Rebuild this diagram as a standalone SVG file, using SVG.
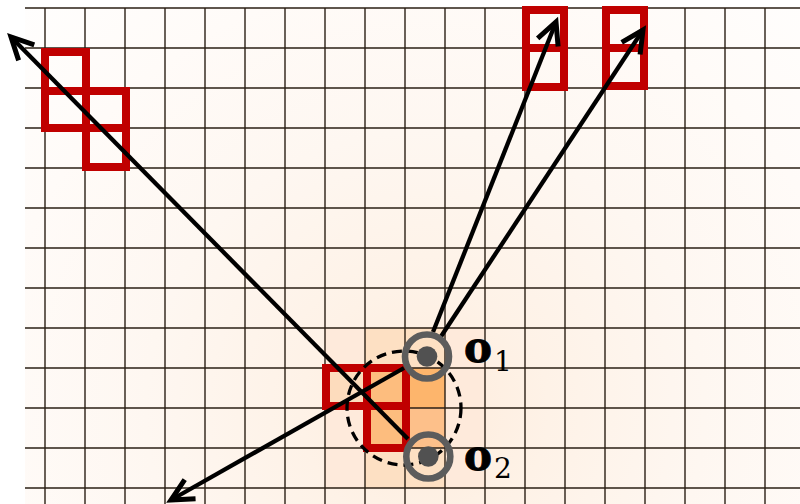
<svg xmlns="http://www.w3.org/2000/svg" width="800" height="504" viewBox="0 0 800 504">
<defs>
<radialGradient id="bg" gradientUnits="userSpaceOnUse" cx="425" cy="410" r="620">
<stop offset="0" stop-color="#feecdc"/>
<stop offset="0.2" stop-color="#fef2e7"/>
<stop offset="0.45" stop-color="#fef7f1"/>
<stop offset="0.7" stop-color="#fffbf8"/>
<stop offset="1" stop-color="#ffffff"/>
</radialGradient>
<marker id="arr" markerUnits="userSpaceOnUse" viewBox="-28 -18 36 36" markerWidth="36" markerHeight="36" refX="0" refY="0" orient="auto">
<path d="M -22,-11 L 0,0 L -22,11" fill="none" stroke="#000" stroke-width="5" stroke-linejoin="miter"/>
</marker>
</defs>
<style>
.grid line{stroke:#2a1f15;stroke-width:1.4}
.sq{fill:none;stroke:#c00000;stroke-width:8}
.conn{stroke:#000;stroke-width:4.3;fill:none}
.ring{fill:none;stroke:#5c5c5c;stroke-width:6.6}
.dot{fill:#515151}
.lbl{font-family:"DejaVu Serif",serif;font-weight:bold;font-size:42px;fill:#000;stroke:#000;stroke-width:0.9}
.sub{font-family:"DejaVu Serif",serif;font-weight:normal;font-size:28px;fill:#000}
</style>
<rect x="0" y="0" width="800" height="504" fill="#ffffff"/>
<g id="background">
<rect x="25" y="8" width="775" height="496" fill="url(#bg)"/>
<rect x="325" y="328" width="160" height="160" fill="#feeadb"/>
<rect x="365" y="328" width="80" height="160" fill="#fde0c3"/>
<rect x="325" y="368" width="40" height="40" fill="#fddcbd"/>
<rect x="365" y="368" width="80" height="80" fill="#fdbd7e"/>
<rect x="405" y="368" width="40" height="40" fill="#fdb56c"/>
<rect x="405" y="408" width="40" height="40" fill="#fdc08a"/>
</g>
<g id="grid" class="grid">
<line x1="25" y1="8" x2="800" y2="8"/>
<line x1="25" y1="48" x2="800" y2="48"/>
<line x1="25" y1="88" x2="800" y2="88"/>
<line x1="25" y1="128" x2="800" y2="128"/>
<line x1="25" y1="168" x2="800" y2="168"/>
<line x1="25" y1="208" x2="800" y2="208"/>
<line x1="25" y1="248" x2="800" y2="248"/>
<line x1="25" y1="288" x2="800" y2="288"/>
<line x1="25" y1="328" x2="800" y2="328"/>
<line x1="25" y1="368" x2="800" y2="368"/>
<line x1="25" y1="408" x2="800" y2="408"/>
<line x1="25" y1="448" x2="800" y2="448"/>
<line x1="25" y1="488" x2="800" y2="488"/>
<line x1="45" y1="8" x2="45" y2="504"/>
<line x1="85" y1="8" x2="85" y2="504"/>
<line x1="125" y1="8" x2="125" y2="504"/>
<line x1="165" y1="8" x2="165" y2="504"/>
<line x1="205" y1="8" x2="205" y2="504"/>
<line x1="245" y1="8" x2="245" y2="504"/>
<line x1="285" y1="8" x2="285" y2="504"/>
<line x1="325" y1="8" x2="325" y2="504"/>
<line x1="365" y1="8" x2="365" y2="504"/>
<line x1="405" y1="8" x2="405" y2="504"/>
<line x1="445" y1="8" x2="445" y2="504"/>
<line x1="485" y1="8" x2="485" y2="504"/>
<line x1="525" y1="8" x2="525" y2="504"/>
<line x1="565" y1="8" x2="565" y2="504"/>
<line x1="605" y1="8" x2="605" y2="504"/>
<line x1="645" y1="8" x2="645" y2="504"/>
<line x1="685" y1="8" x2="685" y2="504"/>
<line x1="725" y1="8" x2="725" y2="504"/>
<line x1="765" y1="8" x2="765" y2="504"/>
</g>
<g id="squares">
<rect class="sq" x="45" y="52" width="41" height="39"/>
<rect class="sq" x="45" y="91" width="41" height="37"/>
<rect class="sq" x="86" y="91" width="40" height="37"/>
<rect class="sq" x="86" y="128" width="40" height="39"/>
<rect class="sq" x="526" y="10" width="38" height="38"/>
<rect class="sq" x="526" y="48" width="38" height="39"/>
<rect class="sq" x="606" y="10" width="38" height="38"/>
<rect class="sq" x="606" y="48" width="38" height="38"/>
<rect class="sq" x="326" y="368" width="41" height="38"/>
<rect class="sq" x="367" y="368" width="39" height="38"/>
<rect class="sq" x="367" y="406" width="39" height="42"/>
</g>
<g id="connectors">
<line class="conn" x1="408" y1="439" x2="11" y2="37" marker-end="url(#arr)"/>
<line class="conn" x1="404" y1="368" x2="171" y2="500" marker-end="url(#arr)"/>
<line class="conn" x1="433" y1="332" x2="556" y2="22" marker-end="url(#arr)"/>
<line class="conn" x1="440" y1="338" x2="643" y2="30" marker-end="url(#arr)"/>
</g>
<g id="region">
<circle cx="404" cy="408" r="57" fill="none" stroke="#000" stroke-width="3.3" stroke-dasharray="10 6"/>
</g>
<g id="o1">
<circle class="ring" cx="427" cy="356.5" r="22"/>
<circle class="dot" cx="427" cy="356.5" r="10.3"/>
<text x="464" y="362"><tspan class="lbl">o</tspan><tspan class="sub" dx="2" dy="9">1</tspan></text>
</g>
<g id="o2">
<circle class="ring" cx="428.3" cy="456.5" r="22"/>
<circle class="dot" cx="428.3" cy="456.5" r="10.3"/>
<text x="464" y="470"><tspan class="lbl">o</tspan><tspan class="sub" dx="2" dy="8">2</tspan></text>
</g>
</svg>
